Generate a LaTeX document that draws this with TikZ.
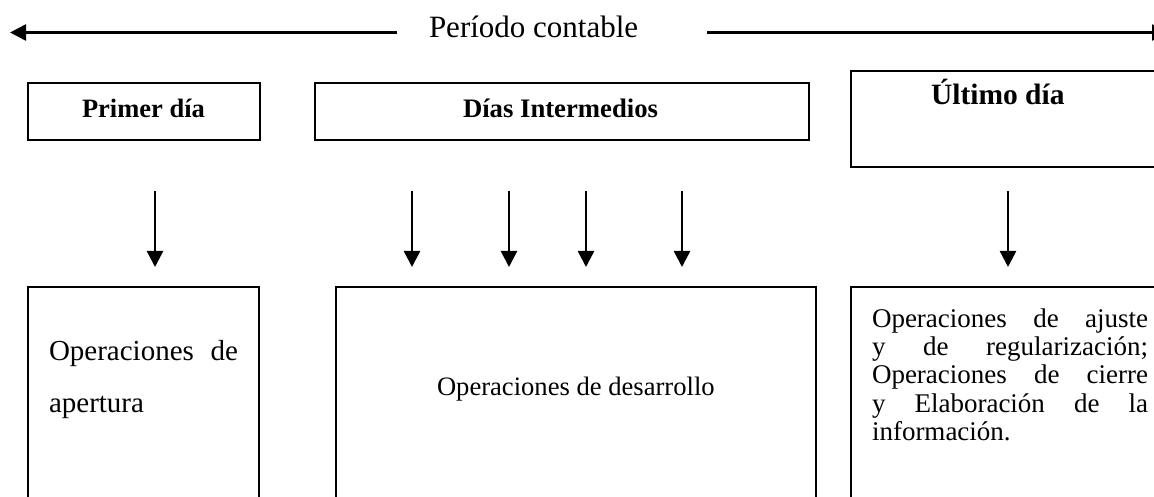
\documentclass[tikz,border=0pt]{standalone}
\usepackage{fontspec}
\setmainfont{Liberation Serif}
\usetikzlibrary{arrows.meta}
\tikzset{
  box/.style={draw=black, line width=2pt, rectangle, inner sep=0pt, outer sep=0pt, anchor=north west},
  arr/.style={draw=black, line width=2.5pt, -{Triangle[length=16pt,width=16pt]}},
  txt/.style={inner sep=0pt, outer sep=0pt, anchor=base west},
}
\newcommand{\fs}[1]{\fontsize{#1}{#1}\selectfont}
\begin{document}
\begin{tikzpicture}[x=1pt,y=-1pt]
\useasboundingbox (0,0) rectangle (1154,497);
\clip (0,0) rectangle (1154,497);
% top period line
\node[txt] (per) at (429,38) {\fs{31}Período contable};
\coordinate (tl1) at (397,32.5);
\coordinate (tl2) at (10,32.5);
\coordinate (tr1) at (707,32.5);
\coordinate (tr2) at (1168,32.5);
\draw[arr] (tl1) -- (tl2);
\draw[arr] (tr1) -- (tr2);
% header boxes
\node[box, minimum width=232pt, minimum height=57pt] (bpd) at (28,83) {};
\node[box, minimum width=494pt, minimum height=57pt] (bdi) at (315,83) {};
\node[box, minimum width=360pt, minimum height=96pt] (bud) at (851,71) {};
\node[txt] (tpd) at (82,118) {\fs{26.5}\bfseries Primer día};
\node[txt] (tdi) at (463,118) {\fs{26.7}\bfseries Días Intermedios};
\node[txt] (tud) at (931,105) {\fs{29.5}\bfseries Último día};
% arrows
\coordinate (a1s) at (155,191); \coordinate (a1e) at (155,267);
\coordinate (a2s) at (412,191); \coordinate (a2e) at (412,267);
\coordinate (a3s) at (509,191); \coordinate (a3e) at (509,267);
\coordinate (a4s) at (586,191); \coordinate (a4e) at (586,267);
\coordinate (a5s) at (682,191); \coordinate (a5e) at (682,267);
\coordinate (a6s) at (1008,191); \coordinate (a6e) at (1008,267);
\draw[arr] (a1s) -- (a1e);
\draw[arr] (a2s) -- (a2e);
\draw[arr] (a3s) -- (a3e);
\draw[arr] (a4s) -- (a4e);
\draw[arr] (a5s) -- (a5e);
\draw[arr] (a6s) -- (a6e);
% lower boxes
\node[box, minimum width=231pt, minimum height=300pt] (bap) at (28,287) {};
\node[box, minimum width=480pt, minimum height=300pt] (bde) at (336,287) {};
\node[box, minimum width=360pt, minimum height=300pt] (bci) at (851,287) {};
% lower texts
\node[txt] (ap1) at (49,360) {\fs{29}\makebox[189pt][s]{Operaciones de}};
\node[txt] (ap2) at (49,412) {\fs{29}apertura};
\node[txt] (de1) at (437,395) {\fs{26.6}Operaciones de desarrollo};
\node[txt] (ci1) at (872,327) {\fs{27}\makebox[276pt][s]{Operaciones de ajuste}};
\node[txt] (ci2) at (872,355) {\fs{27}\makebox[276pt][s]{y de regularización;}};
\node[txt] (ci3) at (872,383) {\fs{27}\makebox[276pt][s]{Operaciones de cierre}};
\node[txt] (ci4) at (872,412) {\fs{27}\makebox[276pt][s]{y Elaboración de la}};
\node[txt] (ci5) at (872,440) {\fs{27}información.};
\end{tikzpicture}
\end{document}
